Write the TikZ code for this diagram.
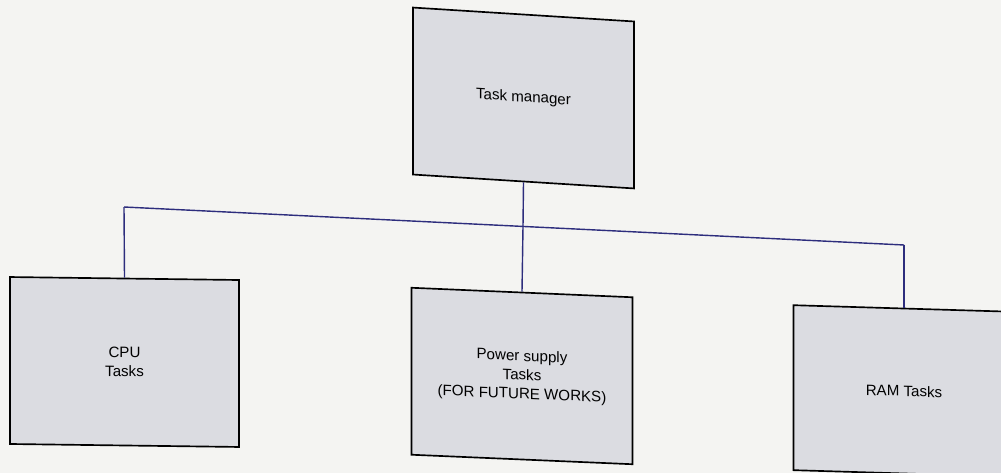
\documentclass[tikz,border=0pt]{standalone}
\usepackage{fontspec}
\setmainfont{Liberation Sans}
\definecolor{paper}{RGB}{244,244,242}
\definecolor{boxfill}{RGB}{219,220,225}
\definecolor{wire}{RGB}{45,45,125}
\begin{document}
\begin{tikzpicture}[x=0.02cm,y=-0.02cm,
  taskbox/.style={draw=black, line width=0.95pt, fill=boxfill,
    minimum width=4.42cm, minimum height=3.34cm, inner sep=0pt,
    align=center, font=\fontsize{8.6}{10.8}\selectfont},
  link/.style={draw=wire, line width=0.8pt}]
\useasboundingbox (0,0) rectangle (1001,473);
\clip (0,0) rectangle (1001,473);
\fill[paper] (0,0) rectangle (1001,473);

% boxes (the scanned page is slightly skewed, hence the slants)
\node[taskbox, yslant=-0.063] (tm)  at (523.5,98) {Task manager};
\node[taskbox, yslant=-0.013, minimum width=4.58cm] (cpu) at (124.5,362) {CPU\\Tasks};
\node[taskbox, yslant=-0.043] (pwr) at (522,376)  {Power supply\\Tasks\\(FOR FUTURE WORKS)};
\node[taskbox, yslant=-0.030, minimum height=3.3cm] (ram) at (904,391) {RAM Tasks};

% tree connector
\coordinate (jl) at (124,207);
\coordinate (jr) at (904,245);
\coordinate (jm) at (523,226.5);
\draw[link] (tm.south) -- (jm);
\draw[link] (jl) -- (jr);
\draw[link] (jl) -- (cpu.north);
\draw[link] (jm) -- (pwr.north);
\draw[link] (jr) -- (ram.north);
\end{tikzpicture}
\end{document}
